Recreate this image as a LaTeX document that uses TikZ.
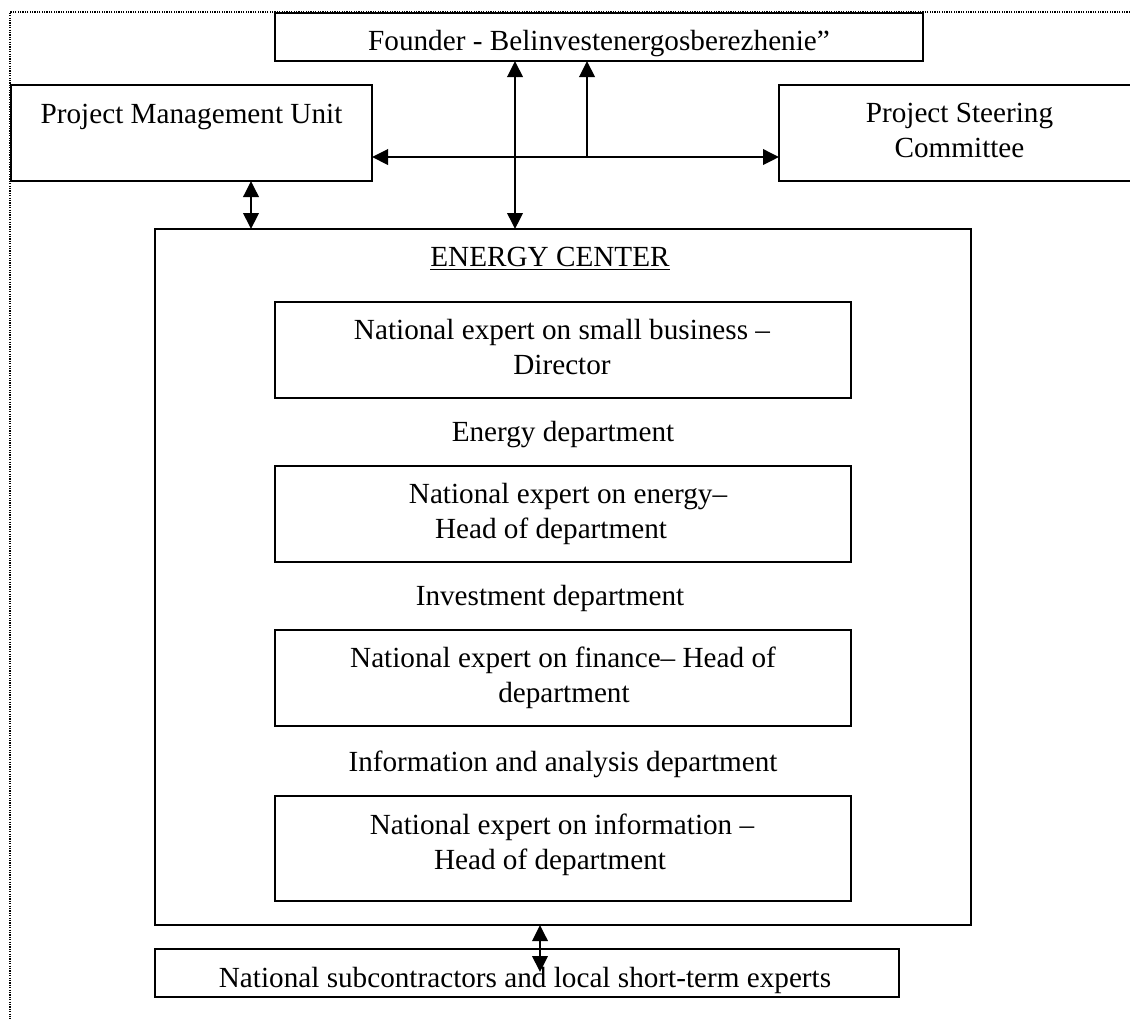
\documentclass[tikz,border=0pt]{standalone}
\usepackage{fontspec}
\setmainfont{Liberation Serif}
\usetikzlibrary{arrows.meta}
\begin{document}
\begin{tikzpicture}[x=0.5pt,y=-0.5pt,
  box/.style={draw,line width=1pt,inner sep=0pt,outer sep=0pt},
  txt/.style={anchor=base,inner sep=0pt,font=\fontsize{14.6}{17.5}\selectfont},
  arr/.style={line width=0.8pt,{Triangle[length=8pt,width=7.8pt]}-{Triangle[length=8pt,width=7.8pt]}},
  arrone/.style={line width=0.8pt,-{Triangle[length=8pt,width=7.8pt]}},
  frame/.style={line width=0.6pt,dash pattern=on 0.6pt off 0.6pt,black}
]
\useasboundingbox (0,0) rectangle (1130,1019);
\clip (0,0) rectangle (1130,1019);
\draw[frame] (1130,12) -- (10,12) -- (10,1019);

% boxes
\node[box,minimum width=324pt,minimum height=24pt] (founder) at (599,37) {};
\node[box,minimum width=180.5pt,minimum height=48pt] (pmu) at (191.5,133) {};
\node[box,minimum width=180.5pt,minimum height=48pt] (psc) at (959.5,133) {};
\node[box,minimum width=408pt,minimum height=348pt] (ec) at (563,577) {};
\node[box,minimum width=288pt,minimum height=48pt] (dir) at (563,350) {};
\node[box,minimum width=288pt,minimum height=48pt] (en) at (563,514) {};
\node[box,minimum width=288pt,minimum height=48pt] (fin) at (563,678) {};
\node[box,minimum width=288pt,minimum height=52.5pt] (info) at (563,848.5) {};
\node[box,minimum width=372pt,minimum height=24pt] (sub) at (527,973) {};

% texts
\node[txt] (tfounder) at (599,50) {Founder - Belinvestenergosberezhenie”};
\node[txt] (tpmu) at (191.5,123) {Project Management Unit};
\node[txt] (tpsc1) at (959.5,122) {Project Steering};
\node[txt] (tpsc2) at (959.5,157) {Committee};
\node[txt] (tec) at (550,266) {\underline{ENERGY CENTER}};
\node[txt] (tdir1) at (562,339) {National expert on small business –};
\node[txt] (tdir2) at (562,374) {Director};
\node[txt] (tendep) at (563,441) {Energy department};
\node[txt] (ten1) at (568,503) {National expert on energy–};
\node[txt] (ten2) at (551,538) {Head of department};
\node[txt] (tinvdep) at (550,605) {Investment department};
\node[txt] (tfin1) at (563,667) {National expert on finance– Head of};
\node[txt] (tfin2) at (564,702) {department};
\node[txt] (tinfodep) at (563,771) {Information and analysis department};
\node[txt] (tinfo1) at (562,834) {National expert on information –};
\node[txt] (tinfo2) at (550,869) {Head of department};
\node[txt] (tsub) at (525,987) {National subcontractors and local short-term experts};

% connectors
\coordinate (hj) at (587,157);
\draw[arr] (pmu.east |- hj) -- (psc.west |- hj);
\draw[arrone] (hj) -- (founder.south -| hj);
\coordinate (vf) at (515,157);
\draw[arr] (founder.south -| vf) -- (ec.north -| vf);
\coordinate (vp) at (251,200);
\draw[arr] (pmu.south -| vp) -- (ec.north -| vp);
\coordinate (vs) at (540,972);
\draw[arr] (ec.south -| vs) -- (vs);
\end{tikzpicture}
\end{document}
